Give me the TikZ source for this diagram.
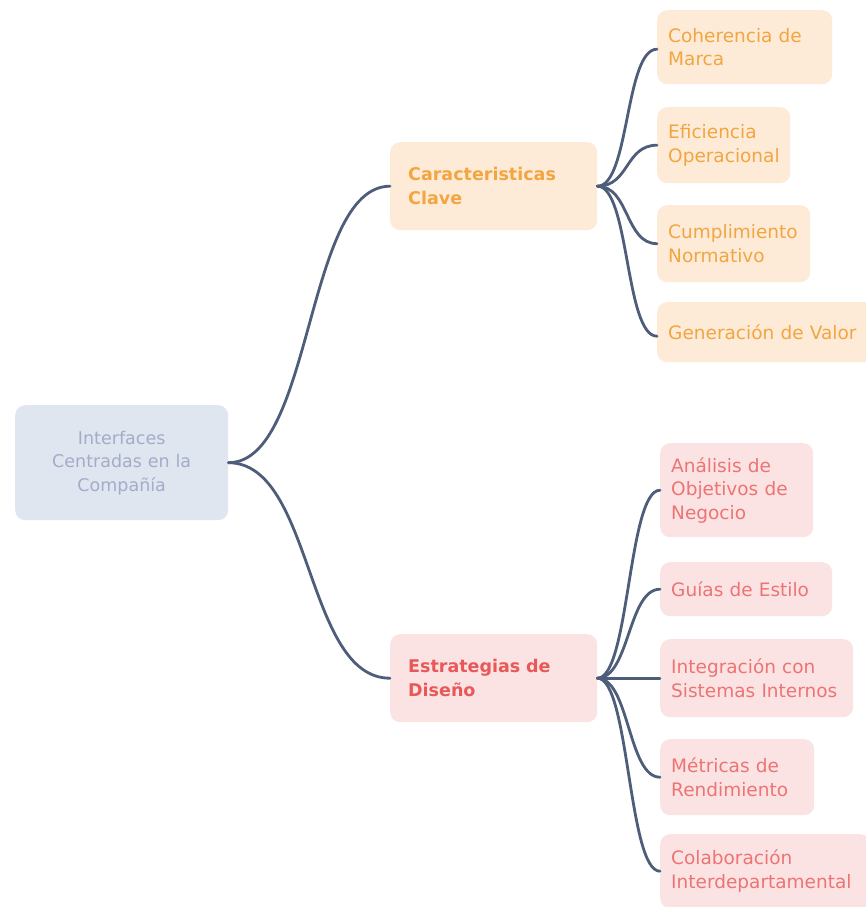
\documentclass[tikz,border=0pt]{standalone}
\usepackage{fontspec}
\setmainfont{DejaVu Sans}
\definecolor{edgec}{HTML}{4E5D7A}
\definecolor{rootfill}{HTML}{E0E6F0}
\definecolor{roottext}{HTML}{A3ACC8}
\definecolor{ofill}{HTML}{FDEBD8}
\definecolor{otext}{HTML}{F2A540}
\definecolor{rfill}{HTML}{FCE3E3}
\definecolor{rtext}{HTML}{EC7474}
\definecolor{rbold}{HTML}{E85858}
\tikzset{
  box/.style={rectangle, rounded corners=10pt, draw=none, anchor=north west, inner xsep=11pt, inner ysep=0pt, align=left},
  rootbox/.style={box, fill=rootfill, text=roottext, align=center, font=\fontsize{17.5}{23.5}\selectfont},
  obranch/.style={box, fill=ofill, text=otext, inner xsep=18pt, font=\fontsize{17.5}{23.5}\selectfont\bfseries},
  rbranch/.style={box, fill=rfill, text=rbold, inner xsep=18pt, font=\fontsize{17.5}{23.5}\selectfont\bfseries},
  oleaf/.style={box, fill=ofill, text=otext, font=\fontsize{18.5}{23.5}\selectfont},
  rleaf/.style={box, fill=rfill, text=rtext, font=\fontsize{18.5}{23.5}\selectfont},
  conn/.style={draw=edgec, line width=2.8pt, line cap=round}
}
\begin{document}
\begin{tikzpicture}[x=1pt,y=-1pt]
\useasboundingbox[fill=white] (0,0) rectangle (865,907);
% root
\node[rootbox, minimum width=213pt, minimum height=115pt, text width=190pt] (root) at (15,405) {Interfaces\\Centradas en la\\Compañía};
% branches
\node[obranch, minimum width=207pt, minimum height=88pt, text width=171pt] (car) at (390,142) {Caracteristicas\\Clave};
\node[rbranch, minimum width=207pt, minimum height=88pt, text width=171pt] (est) at (390,634) {Estrategias de\\Diseño};
% orange leaves
\node[oleaf, minimum width=175pt, minimum height=74pt, text width=153pt] (coh) at (657,10) {Coherencia de\\Marca};
\node[oleaf, minimum width=133pt, minimum height=76pt, text width=111pt] (efi) at (657,107) {Eficiencia\\Operacional};
\node[oleaf, minimum width=153pt, minimum height=77pt, text width=131pt] (cum) at (657,205) {Cumplimiento\\Normativo};
\node[oleaf, minimum width=218pt, minimum height=60pt, text width=198pt] (gen) at (657,302) {Generación de Valor};
% red leaves
\node[rleaf, minimum width=153pt, minimum height=94pt, text width=131pt] (ana) at (660,443) {Análisis de\\Objetivos de\\Negocio};
\node[rleaf, minimum width=172pt, minimum height=54pt, text width=150pt] (gui) at (660,562) {Guías de Estilo};
\node[rleaf, minimum width=193pt, minimum height=78pt, text width=171pt] (int) at (660,639) {Integración con\\Sistemas Internos};
\node[rleaf, minimum width=154pt, minimum height=76pt, text width=132pt] (met) at (660,739) {Métricas de\\Rendimiento};
\node[rleaf, minimum width=210pt, minimum height=74pt, text width=188pt] (col) at (660,834) {Colaboración\\Interdepartamental};
% connectors
\draw[conn] (root.east) .. controls +(85,0) and +(-85,0) .. (car.west);
\draw[conn] (root.east) .. controls +(85,0) and +(-85,0) .. (est.west);
\draw[conn] (car.east) .. controls +(32,0) and +(-32,0) .. ([yshift=-2pt]coh.west);
\draw[conn] (car.east) .. controls +(32,0) and +(-32,0) .. (efi.west);
\draw[conn] (car.east) .. controls +(32,0) and +(-32,0) .. (cum.west);
\draw[conn] (car.east) .. controls +(32,0) and +(-32,0) .. ([yshift=-4pt]gen.west);
\draw[conn] (est.east) .. controls +(32,0) and +(-32,0) .. (ana.west);
\draw[conn] (est.east) .. controls +(32,0) and +(-32,0) .. (gui.west);
\draw[conn] (est.east) .. controls +(32,0) and +(-32,0) .. (int.west);
\draw[conn] (est.east) .. controls +(32,0) and +(-32,0) .. (met.west);
\draw[conn] (est.east) .. controls +(32,0) and +(-32,0) .. (col.west);
\end{tikzpicture}
\end{document}
